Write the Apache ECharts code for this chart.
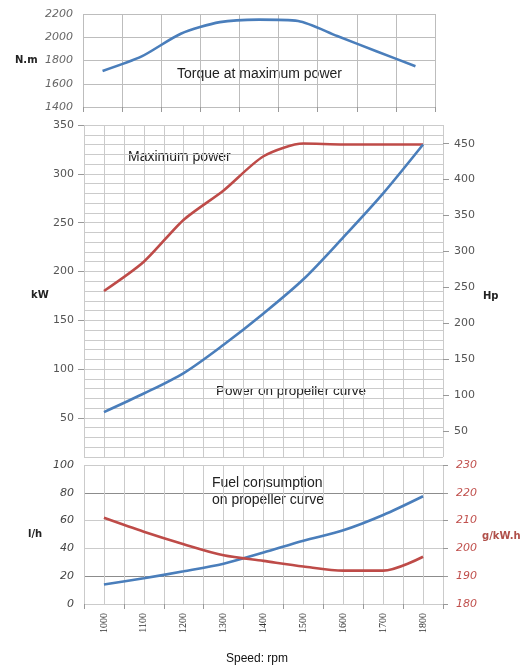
<!DOCTYPE html>
<html>
<head>
<meta charset="utf-8">
<script src="https://cdn.jsdelivr.net/npm/echarts@6/dist/echarts.min.js"></script>
<style>
html,body{margin:0;padding:0;background:#fff;}
#chart{width:531px;height:668px;}
</style>
</head>
<body>
<div id="chart"></div>
<script>
// ---- data ----
const rpm = [1000, 1100, 1200, 1300, 1400, 1500, 1600, 1700, 1800];
const rpmLabels = [1000, 1100, 1200, 1300, 1400, 1500, 1600, 1700, 1800];
const torqueNm = [1710, 1835, 2030, 2130, 2152, 2140, 2010, 1880, 1750];
const maxPowerKW = [180, 210, 253, 283, 318, 331, 330, 330, 330];
const propPowerKW = [56, 75, 96, 125, 157, 192, 235, 280, 330];
const fuelLh = [14, 18.5, 23.5, 29, 37, 45.5, 53, 64, 77.5];
const sfcGkWh = [211, 206, 201.5, 197.5, 195.5, 193.5, 192, 192, 197];
const kwTicks = [50, 100, 150, 200, 250, 300, 350];
const hpTicks = [50, 100, 150, 200, 250, 300, 350, 400, 450];
const rpmBoundaryTicks = [950, 1050, 1150, 1250, 1350, 1450, 1550, 1650, 1750, 1850];
const KW_TO_HP = 1.36;

const pairs = (ys) => rpm.map((x, i) => [x, ys[i]]);
const plain = (v) => String(v);

const BLUE = '#4a7ebb';
const RED = '#be4b48';
const GRID = '#cbcbcb';
const FONT = 'DejaVu Sans';

const chart = echarts.init(document.getElementById('chart'), null, {renderer: 'canvas'});

const xBase = {
  type: 'value', min: 950, max: 1850, position: 'bottom',
  axisLine: {show: false},
  axisLabel: {show: false},
  axisTick: {show: false},
  splitLine: {show: true, lineStyle: {color: GRID, width: 1}}
};

const option = {
  animation: false,
  grid: [
    {left: 83, right: 96, top: 14, height: 93},
    {left: 84, right: 88, top: 125, height: 332},
    {left: 84, right: 88, top: 465, height: 139}
  ],
  xAxis: [
    Object.assign({}, xBase, {gridIndex: 0, interval: 100,
      splitLine: {show: true, lineStyle: {color: '#bdbdbd'}},
      axisTick: {show: true, inside: false, length: 5, lineStyle: {color: '#999'}}}),
    Object.assign({}, xBase, {gridIndex: 1, interval: 50}),
    Object.assign({}, xBase, {gridIndex: 2, interval: 50}),
    // label / tick axis for the bottom panel
    Object.assign({}, xBase, {gridIndex: 2, position: 'bottom', offset: 0,
      splitLine: {show: false},
      axisTick: {show: true, length: 5, customValues: rpmBoundaryTicks, lineStyle: {color: '#999'}},
      axisLabel: {show: true, customValues: rpmLabels, rotate: 90, margin: 9, formatter: plain,
        fontFamily: 'Liberation Serif', fontSize: 10, color: '#333'}})
  ],
  yAxis: [
    {type: 'value', gridIndex: 0, min: 1400, max: 2200, interval: 200,
      axisLine: {show: false}, axisTick: {show: false},
      axisLabel: {formatter: plain, fontFamily: FONT, fontStyle: 'italic', fontSize: 11, color: '#666', margin: 10},
      splitLine: {lineStyle: {color: '#bdbdbd'}}},
    // kW grid lines (every 10)
    {type: 'value', gridIndex: 1, position: 'left', min: 10, max: 350, interval: 10,
      axisLine: {show: false}, axisTick: {show: false}, axisLabel: {show: false},
      splitLine: {lineStyle: {color: GRID}}},
    // kW labels
    {type: 'value', gridIndex: 1, position: 'left', offset: 0, min: 10, max: 350,
      axisLine: {show: false},
      axisTick: {show: true, length: 6, customValues: kwTicks, lineStyle: {color: '#999'}},
      axisLabel: {customValues: kwTicks, formatter: plain, fontFamily: FONT, fontSize: 11, color: '#555', margin: 10},
      splitLine: {show: false}},
    {type: 'value', gridIndex: 1, position: 'right', min: 10 * KW_TO_HP, max: 350 * KW_TO_HP,
      axisLine: {show: false},
      axisTick: {show: true, length: 6, customValues: hpTicks, lineStyle: {color: '#999'}},
      axisLabel: {customValues: hpTicks, formatter: plain, fontFamily: FONT, fontSize: 11, color: '#555', margin: 11},
      splitLine: {show: false}},
    {type: 'value', gridIndex: 2, position: 'left', min: 0, max: 100, interval: 20,
      axisLine: {show: false}, axisTick: {show: false},
      axisLabel: {formatter: plain, fontFamily: FONT, fontStyle: 'italic', fontSize: 11, color: '#444', margin: 10},
      splitLine: {lineStyle: {color: GRID}}},
    {type: 'value', gridIndex: 2, position: 'right', min: 180, max: 230, interval: 10,
      axisLine: {show: false},
      axisTick: {show: true, length: 5, lineStyle: {color: '#999'}},
      axisLabel: {formatter: plain, fontFamily: FONT, fontStyle: 'italic', fontSize: 11, color: '#c0504d', margin: 13},
      splitLine: {show: true, lineStyle: {color: ['#cbcbcb', '#8c8c8c', '#cbcbcb', '#cbcbcb', '#8c8c8c', '#cbcbcb']}}}
  ],
  series: [
    {type: 'line', name: 'Torque', xAxisIndex: 0, yAxisIndex: 0, data: pairs(torqueNm),
      smooth: 0.25, symbol: 'none', lineStyle: {color: BLUE, width: 2.6}},
    {type: 'line', name: 'Maximum power', xAxisIndex: 1, yAxisIndex: 1, data: pairs(maxPowerKW),
      smooth: 0.25, symbol: 'none', lineStyle: {color: RED, width: 2.6}},
    {type: 'line', name: 'Power on propeller curve', xAxisIndex: 1, yAxisIndex: 1, data: pairs(propPowerKW),
      smooth: 0.3, symbol: 'none', lineStyle: {color: BLUE, width: 2.6}},
    {type: 'line', name: 'Fuel l/h', xAxisIndex: 2, yAxisIndex: 4, data: pairs(fuelLh),
      smooth: 0.3, symbol: 'none', lineStyle: {color: BLUE, width: 2.6}},
    {type: 'line', name: 'SFC g/kW.h', xAxisIndex: 2, yAxisIndex: 5, data: pairs(sfcGkWh),
      smooth: 0.3, symbol: 'none', lineStyle: {color: RED, width: 2.6}}
  ],
  graphic: [
    {type: 'text', left: 15, top: 55, style: {text: 'N.m', font: 'bold 10px "DejaVu Sans"', fill: '#222'}},
    {type: 'text', left: 31, top: 290, style: {text: 'kW', font: 'bold 10px "DejaVu Sans"', fill: '#222'}},
    {type: 'text', left: 483, top: 291, style: {text: 'Hp', font: 'bold 10px "DejaVu Sans"', fill: '#222'}},
    {type: 'text', left: 28, top: 529, style: {text: 'l/h', font: 'bold 10px "DejaVu Sans"', fill: '#222'}},
    {type: 'text', left: 482, top: 531, style: {text: 'g/kW.h', font: 'bold 10px "DejaVu Sans"', fill: '#b0504a'}},
    {type: 'text', left: 177, top: 67, style: {text: 'Torque at maximum power', font: '14px "Liberation Sans"', fill: '#222'}},
    {type: 'text', left: 128, top: 150, style: {text: 'Maximum power', font: '14px "Liberation Sans"', fill: '#222'}},
    {type: 'text', left: 216, top: 384, style: {text: 'Power on propeller curve', font: '13.5px "Liberation Sans"', fill: '#222'}},
    {type: 'text', left: 212, top: 475, style: {text: 'Fuel consumption\non propeller curve', font: '14px "Liberation Sans"', lineHeight: 17, fill: '#222'}},
    {type: 'text', left: 226, top: 653, style: {text: 'Speed: rpm', font: '12px "Liberation Sans"', fill: '#111'}}
  ]
};
chart.setOption(option);
</script>
</body>
</html>
